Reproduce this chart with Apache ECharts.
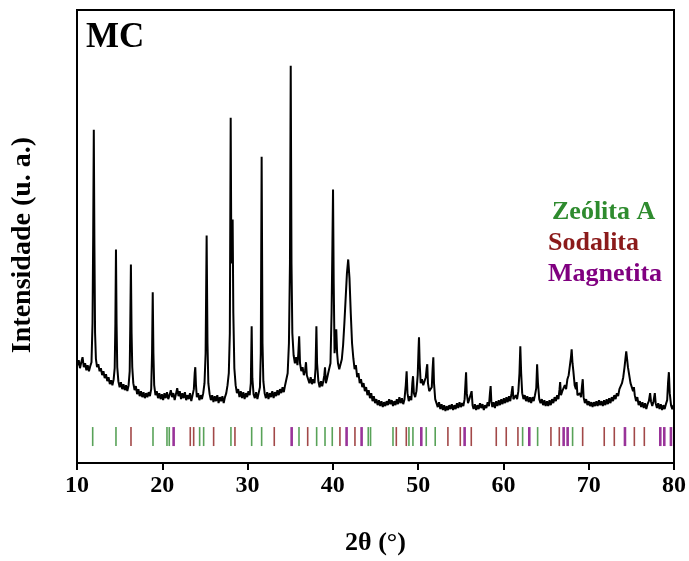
<!DOCTYPE html>
<html>
<head>
<meta charset="utf-8">
<script src="https://cdn.jsdelivr.net/npm/echarts@6/dist/echarts.min.js"></script>
<style>
  html, body { margin: 0; padding: 0; background: #fff; }
  #xrd { width: 689px; height: 561px; }
</style>
</head>
<body>
<div id="xrd"></div>
<script>
// diffractogram MC: [2theta, intensity (a.u.)]
var pattern = [
  [10.0,97],[10.2,103],[10.35,95],[10.5,101],[10.65,106],[10.8,96],[10.95,100],[11.1,93],[11.25,98],[11.4,92],[11.55,97],[11.7,101],
  [11.82,140],[11.9,230],[11.97,334],[12.04,220],[12.12,130],[12.22,104],[12.35,96],[12.5,99],[12.65,92],[12.8,95],[12.95,88],
  [13.1,92],[13.25,85],[13.4,89],[13.55,82],[13.7,86],[13.85,79],[14.0,83],[14.15,78],[14.3,84],[14.42,95],[14.5,140],[14.57,214],
  [14.64,140],[14.72,96],[14.85,82],[15.0,76],[15.15,81],[15.3,74],[15.45,79],[15.6,73],[15.75,78],[15.9,72],[16.05,78],[16.18,92],
  [16.25,140],[16.32,199],[16.4,130],[16.48,96],[16.6,80],[16.75,73],[16.9,77],[17.05,69],[17.2,74],[17.35,67],[17.5,72],[17.65,66],
  [17.8,71],[17.95,65],[18.1,70],[18.25,66],[18.4,71],[18.55,67],[18.7,74],[18.8,110],[18.88,171],[18.96,110],[19.05,78],[19.2,68],
  [19.35,72],[19.5,65],[19.65,70],[19.8,64],[19.95,69],[20.1,63],[20.25,70],[20.4,65],[20.55,71],[20.7,64],[20.85,68],[21.0,73],
  [21.15,66],[21.3,70],[21.45,63],[21.6,69],[21.75,75],[21.9,67],[22.05,72],[22.2,64],[22.35,70],[22.5,65],[22.65,71],[22.8,63],
  [22.95,68],[23.1,64],[23.25,70],[23.4,62],[23.55,68],[23.7,74],[23.8,90],[23.87,96],[23.95,78],[24.05,66],[24.2,70],[24.35,63],
  [24.5,68],[24.65,64],[24.8,70],[24.95,80],[25.08,110],[25.2,228],[25.3,120],[25.4,80],[25.55,69],[25.7,63],[25.85,68],[26.0,61],
  [26.15,67],[26.3,62],[26.45,68],[26.6,60],[26.75,66],[26.9,62],[27.05,67],[27.2,60],[27.35,66],[27.5,70],[27.65,78],[27.8,90],
  [27.92,130],[28.02,346],[28.1,200],[28.18,220],[28.25,244],[28.33,150],[28.45,95],[28.6,78],[28.75,70],[28.9,74],[29.05,66],
  [29.2,72],[29.35,65],[29.5,71],[29.65,64],[29.8,70],[29.95,66],[30.1,72],[30.25,68],[30.38,80],[30.48,137],[30.56,85],[30.7,69],
  [30.85,65],[31.0,71],[31.15,64],[31.3,70],[31.45,76],[31.55,110],[31.65,307],[31.75,120],[31.85,82],[32.0,70],[32.15,65],
  [32.3,71],[32.45,64],[32.6,70],[32.75,66],[32.9,72],[33.05,65],[33.2,71],[33.35,67],[33.5,73],[33.65,68],[33.8,74],[33.95,70],
  [34.1,76],[34.25,71],[34.4,78],[34.55,76],[34.7,90],[34.85,120],[34.97,200],[35.06,398],[35.15,200],[35.25,130],[35.4,108],
  [35.55,100],[35.7,106],[35.85,98],[35.95,110],[36.05,127],[36.15,100],[36.3,92],[36.45,96],[36.6,88],[36.75,93],[36.85,101],
  [36.95,88],[37.1,84],[37.25,80],[37.4,86],[37.55,79],[37.7,84],[37.85,80],[37.97,95],[38.07,137],[38.15,100],[38.3,82],[38.45,76],
  [38.6,82],[38.75,77],[38.9,83],[39.0,88],[39.08,96],[39.18,80],[39.3,84],[39.45,90],[39.6,88],[39.72,100],[39.85,150],[39.95,220],
  [40.02,274],[40.1,180],[40.2,110],[40.3,120],[40.4,134],[40.5,110],[40.6,100],[40.75,94],[40.9,96],[41.05,104],[41.2,118],
  [41.35,140],[41.5,165],[41.65,190],[41.8,204],[41.95,185],[42.1,150],[42.25,120],[42.4,105],[42.55,94],[42.7,98],[42.85,86],
  [43.0,90],[43.15,80],[43.3,84],[43.45,76],[43.6,80],[43.75,72],[43.9,76],[44.05,68],[44.2,73],[44.35,65],[44.5,70],[44.65,62],
  [44.8,67],[44.95,60],[45.1,64],[45.25,58],[45.4,63],[45.55,57],[45.7,62],[45.85,56],[46.0,61],[46.15,57],[46.3,62],[46.45,58],
  [46.6,64],[46.75,59],[46.9,63],[47.05,57],[47.2,62],[47.35,58],[47.5,64],[47.65,59],[47.8,66],[47.95,60],[48.1,65],[48.25,59],
  [48.4,64],[48.55,78],[48.65,92],[48.75,70],[48.9,62],[49.05,67],[49.2,63],[49.32,80],[49.4,87],[49.5,70],[49.65,66],[49.8,72],
  [49.95,88],[50.05,115],[50.1,126],[50.18,100],[50.3,80],[50.45,84],[50.6,78],[50.75,82],[50.9,86],[51.0,95],[51.07,99],[51.15,80],
  [51.3,72],[51.45,70],[51.6,76],[51.7,95],[51.78,106],[51.86,80],[52.0,64],[52.15,60],[52.3,56],[52.45,61],[52.6,54],[52.75,59],
  [52.9,53],[53.05,58],[53.2,52],[53.35,57],[53.5,53],[53.65,58],[53.8,54],[53.95,59],[54.1,53],[54.25,58],[54.4,54],[54.55,60],
  [54.7,55],[54.85,61],[55.0,56],[55.15,60],[55.3,57],[55.45,64],[55.55,80],[55.62,91],[55.7,70],[55.85,60],[56.0,64],[56.15,62],
  [56.27,72],[56.38,58],[56.5,54],[56.65,59],[56.8,53],[56.95,58],[57.1,54],[57.25,60],[57.4,55],[57.55,59],[57.7,53],[57.85,58],
  [58.0,55],[58.15,61],[58.3,57],[58.42,70],[58.5,77],[58.58,62],[58.7,56],[58.85,61],[59.0,55],[59.15,62],[59.3,57],[59.45,63],
  [59.6,58],[59.75,64],[59.9,59],[60.05,65],[60.2,60],[60.35,66],[60.5,61],[60.65,67],[60.8,62],[60.95,70],[61.07,77],[61.17,64],
  [61.3,62],[61.45,68],[61.6,64],[61.75,72],[61.88,90],[61.98,117],[62.08,90],[62.2,70],[62.35,64],[62.5,68],[62.65,62],[62.8,67],
  [62.95,61],[63.1,66],[63.25,60],[63.4,66],[63.55,62],[63.7,68],[63.85,75],[63.95,99],[64.05,80],[64.2,64],[64.35,60],[64.5,64],
  [64.65,58],[64.8,63],[64.95,57],[65.1,62],[65.25,57],[65.4,63],[65.55,58],[65.7,64],[65.85,60],[66.0,66],[66.15,62],[66.3,68],
  [66.45,64],[66.58,74],[66.65,81],[66.75,68],[66.9,72],[67.05,70],[67.2,78],[67.35,74],[67.5,84],[67.65,88],[67.8,98],[67.92,106],
  [68.0,114],[68.1,100],[68.2,92],[68.35,78],[68.5,74],[68.58,81],[68.68,68],[68.8,66],[68.95,70],[69.1,66],[69.2,76],[69.3,84],
  [69.4,66],[69.55,60],[69.7,64],[69.85,58],[70.0,62],[70.15,57],[70.3,61],[70.45,56],[70.6,61],[70.75,57],[70.9,62],[71.05,57],
  [71.2,63],[71.35,58],[71.5,62],[71.65,57],[71.8,63],[71.95,58],[72.1,64],[72.25,59],[72.4,65],[72.55,60],[72.7,66],[72.85,62],
  [73.0,68],[73.15,64],[73.3,70],[73.45,67],[73.6,74],[73.75,72],[73.9,80],[74.05,86],[74.2,96],[74.3,104],[74.4,112],[74.5,104],
  [74.6,96],[74.75,88],[74.9,80],[75.05,78],[75.2,72],[75.3,76],[75.4,68],[75.55,62],[75.7,66],[75.85,58],[76.0,62],[76.15,56],
  [76.3,61],[76.45,55],[76.6,60],[76.75,54],[76.9,59],[77.05,62],[77.2,70],[77.3,62],[77.45,57],[77.6,62],[77.75,70],[77.85,60],
  [78.0,55],[78.15,60],[78.3,54],[78.45,59],[78.6,53],[78.75,58],[78.9,54],[79.05,59],[79.2,63],[79.3,80],[79.4,91],[79.5,70],
  [79.65,58],[79.8,54],[79.95,58],[80.0,56]
];

// reference reflections (2theta) per phase
var zeoliteA = [11.84, 14.57, 18.91, 20.55, 20.82, 24.38, 24.85, 28.05, 30.48, 31.65, 36.03, 38.10, 39.08, 39.93,
  44.15, 44.42, 47.05, 48.92, 49.39, 50.95, 52.0, 62.25, 64.01, 68.11];
var sodalite = [16.33, 23.28, 23.68, 26.02, 28.52, 33.13, 37.05, 40.83, 42.59, 47.44, 48.61, 53.49, 54.94, 56.23,
  59.16, 60.33, 61.70, 65.57, 66.55, 69.29, 71.82, 73.0, 75.35, 76.52];
var magnetite = [21.33, 35.17, 41.61, 43.37, 50.37, 55.45, 63.03, 67.06, 67.53, 74.25, 78.39, 78.86, 79.64];

var xTicks = [10, 20, 30, 40, 50, 60, 70, 80];
var phaseNames = ['Zeólita A', 'Sodalita', 'Magnetita'];
var phaseColors = ['#2e8b2e', '#8b1a1a', '#800080'];
var markLevel = 26.5;

var serif = '"Liberation Serif", "Times New Roman", serif';

function marks(arr) {
  return arr.map(function (v) { return [v, markLevel]; });
}

var chart = echarts.init(document.getElementById('xrd'));
chart.setOption({
  animation: false,
  backgroundColor: '#fff',
  grid: {
    left: 77, right: 15, top: 10, bottom: 97,
    show: true, borderColor: '#000', borderWidth: 2
  },
  xAxis: {
    type: 'value',
    min: 10, max: 80, interval: 10,
    name: '2θ (°)',
    nameLocation: 'middle',
    nameGap: 67,
    nameTextStyle: { fontFamily: serif, fontWeight: 'bold', fontSize: 26, color: '#000' },
    axisLine: { show: true, lineStyle: { color: '#000', width: 2 } },
    axisTick: { show: true, inside: false, length: 7, lineStyle: { color: '#000', width: 2 } },
    axisLabel: {
      fontFamily: serif, fontWeight: 'bold', fontSize: 24, color: '#000', margin: 11,
      formatter: function (v) { return xTicks.indexOf(v) >= 0 ? String(v) : ''; }
    },
    splitLine: { show: false }
  },
  yAxis: {
    type: 'value',
    min: 0, max: 454,
    axisLine: { show: false },
    axisTick: { show: false },
    axisLabel: { show: false },
    splitLine: { show: false }
  },
  series: [
    {
      type: 'line',
      data: pattern,
      showSymbol: false,
      lineStyle: { color: '#000', width: 2 },
      clip: true,
      z: 3
    },
    {
      type: 'scatter', data: marks(zeoliteA), symbol: 'rect', symbolSize: [1.6, 19],
      itemStyle: { color: phaseColors[0] }, z: 2
    },
    {
      type: 'scatter', data: marks(sodalite), symbol: 'rect', symbolSize: [1.6, 19],
      itemStyle: { color: phaseColors[1] }, z: 2
    },
    {
      type: 'scatter', data: marks(magnetite), symbol: 'rect', symbolSize: [2.6, 19],
      itemStyle: { color: phaseColors[2] }, z: 2
    }
  ],
  graphic: [
    {
      type: 'text', left: 86, top: 20,
      style: { text: 'MC', fontFamily: serif, fontWeight: 'bold', fontSize: 35, fill: '#000' }
    },
    {
      type: 'text', x: 23, y: 245, rotation: Math.PI / 2,
      style: {
        text: 'Intensidade (u. a.)', fontFamily: serif, fontWeight: 'bold', fontSize: 28,
        fill: '#000', align: 'center', verticalAlign: 'middle'
      }
    },
    {
      type: 'text', x: 552, y: 212,
      style: { text: phaseNames[0], fontFamily: serif, fontWeight: 'bold', fontSize: 26, fill: phaseColors[0], verticalAlign: 'middle' }
    },
    {
      type: 'text', x: 548, y: 243,
      style: { text: phaseNames[1], fontFamily: serif, fontWeight: 'bold', fontSize: 26, fill: phaseColors[1], verticalAlign: 'middle' }
    },
    {
      type: 'text', x: 548, y: 274,
      style: { text: phaseNames[2], fontFamily: serif, fontWeight: 'bold', fontSize: 26, fill: phaseColors[2], verticalAlign: 'middle' }
    }
  ]
});
</script>
</body>
</html>
